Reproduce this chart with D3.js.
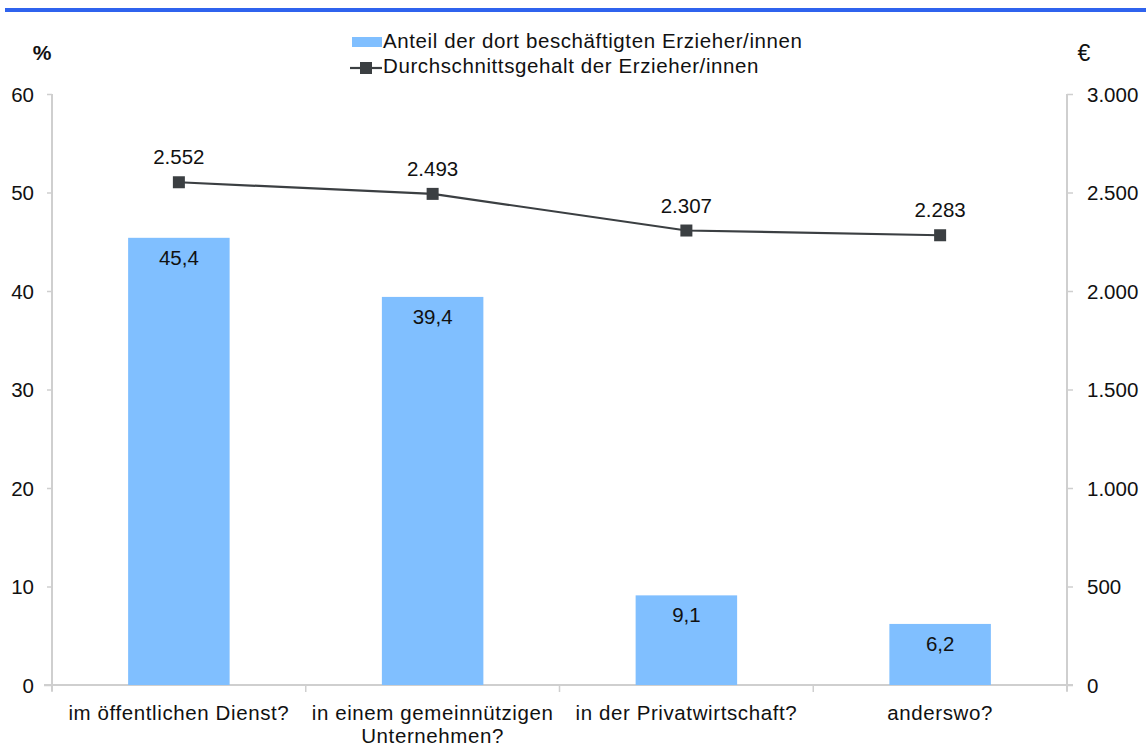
<!DOCTYPE html>
<html><head><meta charset="utf-8">
<script src="https://cdn.jsdelivr.net/npm/d3@7"></script>
<style>body{margin:0;background:#fff}svg{display:block;font-family:"Liberation Sans",Arial,sans-serif}</style>
</head><body><svg id="c" width="1146" height="747"></svg>
<script>
const categories = [["im öffentlichen Dienst?"], ["in einem gemeinnützigen", "Unternehmen?"], ["in der Privatwirtschaft?"], ["anderswo?"]];
const shareValues = [45.4, 39.4, 9.1, 6.2];
const shareLabels = ["45,4", "39,4", "9,1", "6,2"];
const salaryValues = [2552, 2493, 2307, 2283];
const salaryLabels = ["2.552", "2.493", "2.307", "2.283"];
const leftTicks = [0, 10, 20, 30, 40, 50, 60];
const rightTicks = [0, 500, 1000, 1500, 2000, 2500, 3000];
const rightTickLabels = ["0", "500", "1.000", "1.500", "2.000", "2.500", "3.000"];
const legendLabels = ["Anteil der dort beschäftigten Erzieher/innen", "Durchschnittsgehalt der Erzieher/innen"];

const svg = d3.select("#c");
const L = 52, R = 1067, T = 94, B = 685;
const axisCol = "#cfcfcf", barCol = "#80bfff", lineCol = "#3b3f42", txt = "#111";
const FS = "20.5px", LS = "0.6px";

svg.append("rect").attr("x", 5).attr("y", 8).attr("width", 1141).attr("height", 4).attr("fill", "#2f63ee");

const x = d3.scaleBand().domain(d3.range(categories.length)).range([L, R]).paddingInner(0).paddingOuter(0);
const yL = d3.scaleLinear().domain([0, 60]).range([B, T]);
const yR = d3.scaleLinear().domain([0, 3000]).range([B, T]);

const gl = svg.append("g").attr("transform", `translate(${L},0)`)
  .call(d3.axisLeft(yL).tickValues(leftTicks).tickSize(5).tickPadding(13).tickFormat(d3.format("d")));
const gr = svg.append("g").attr("transform", `translate(${R},0)`)
  .call(d3.axisRight(yR).tickValues(rightTicks).tickSize(6).tickPadding(14).tickFormat((d, i) => rightTickLabels[i]));
[gl, gr].forEach(g => {
  g.select(".domain").attr("stroke", axisCol).attr("stroke-width", 2).attr("d", `M0,${T}V${B + 6}`);
  g.selectAll(".tick line").attr("stroke", axisCol).attr("stroke-width", 1.5);
  g.selectAll(".tick text").attr("fill", txt).style("font-size", FS).attr("dy", "0.36em");
});
gl.select(".tick:first-of-type line").attr("x2", -8);

const gb = svg.append("g").attr("transform", `translate(0,${B})`);
gb.append("line").attr("x1", L - 8).attr("x2", R + 6).attr("stroke", axisCol).attr("stroke-width", 2);
d3.range(categories.length + 1).forEach(i => {
  const xx = i < categories.length ? x(i) : R;
  gb.append("line").attr("x1", xx).attr("x2", xx).attr("y1", 0).attr("y2", 7).attr("stroke", axisCol).attr("stroke-width", 1.5);
});
categories.forEach((lines, i) => {
  const t = gb.append("text").attr("x", x(i) + x.bandwidth() / 2).attr("y", 35).attr("text-anchor", "middle")
    .attr("fill", txt).style("font-size", FS).style("letter-spacing", LS);
  lines.forEach((s, j) => t.append("tspan").attr("x", x(i) + x.bandwidth() / 2).attr("dy", j ? 23 : 0).text(s));
});

const bw = x.bandwidth() * 0.4;
svg.selectAll(".bar").data(shareValues).join("rect")
  .attr("x", (d, i) => x(i) + x.bandwidth() / 2 - bw / 2).attr("width", bw)
  .attr("y", d => yL(d)).attr("height", d => B - yL(d)).attr("fill", barCol);
svg.selectAll(".bl").data(shareValues).join("text")
  .attr("x", (d, i) => x(i) + x.bandwidth() / 2).attr("y", d => yL(d) + 27)
  .attr("text-anchor", "middle").attr("fill", txt).style("font-size", FS).text((d, i) => shareLabels[i]);

const line = d3.line().x((d, i) => x(i) + x.bandwidth() / 2).y(d => yR(d));
svg.append("path").datum(salaryValues).attr("d", line).attr("fill", "none").attr("stroke", lineCol).attr("stroke-width", 2.2);
svg.selectAll(".pt").data(salaryValues).join("rect")
  .attr("x", (d, i) => x(i) + x.bandwidth() / 2 - 6).attr("y", d => yR(d) - 6).attr("width", 12).attr("height", 12)
  .attr("fill", lineCol);
svg.selectAll(".pl").data(salaryValues).join("text")
  .attr("x", (d, i) => x(i) + x.bandwidth() / 2).attr("y", d => yR(d) - 18)
  .attr("text-anchor", "middle").attr("fill", txt).style("font-size", FS).text((d, i) => salaryLabels[i]);

svg.append("text").attr("x", 42).attr("y", 60).attr("text-anchor", "middle").attr("font-weight", "bold").style("font-size", "21px").attr("fill", txt).text("%");
svg.append("text").attr("x", 1084).attr("y", 61).attr("text-anchor", "middle").style("font-size", "23px").attr("fill", txt).text("€");

const lg = svg.append("g");
lg.append("rect").attr("x", 352).attr("y", 37).attr("width", 30).attr("height", 10).attr("fill", barCol);
lg.append("text").attr("x", 383).attr("y", 48).style("font-size", FS).style("letter-spacing", LS).attr("fill", txt).text(legendLabels[0]);
lg.append("line").attr("x1", 350).attr("x2", 382).attr("y1", 68).attr("y2", 68).attr("stroke", lineCol).attr("stroke-width", 2.2);
lg.append("rect").attr("x", 360).attr("y", 62).attr("width", 12).attr("height", 12).attr("fill", lineCol);
lg.append("text").attr("x", 383).attr("y", 73).style("font-size", FS).style("letter-spacing", LS).attr("fill", txt).text(legendLabels[1]);
</script></body></html>
